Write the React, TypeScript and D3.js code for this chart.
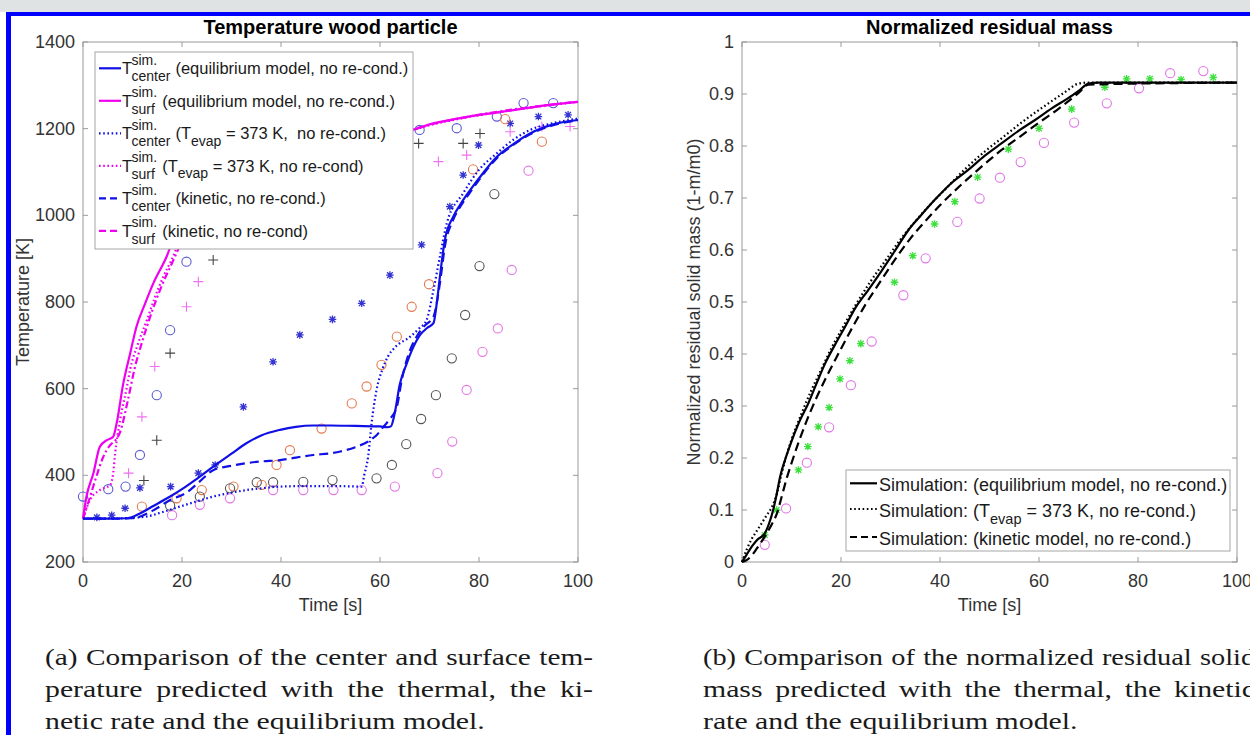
import React, { useEffect, useRef } from 'react';
import * as d3 from 'd3';

const SANS = "'Liberation Sans', Arial, Helvetica, sans-serif";
const SERIF = "'Liberation Serif', 'Times New Roman', serif";

// ---------------- Panel (a): Temperature wood particle ----------------
const tempTitle = 'Temperature wood particle';
const tempXLabel = 'Time [s]';
const tempYLabel = 'Temperature [K]';
const tempXTicks = [0, 20, 40, 60, 80, 100];
const tempYTicks = [200, 400, 600, 800, 1000, 1200, 1400];

const centerEqT = [0, 5, 9, 11.5, 14, 17.6, 20, 23, 26.3, 30, 33, 36, 39.8, 43, 46.5, 50, 55, 60, 61.5, 62.2, 63, 64, 65.4, 66.5, 68.1, 69.5, 70.8, 71.5, 72.1, 73.1, 74.8, 76.5, 78.2, 81, 83.6, 87, 90.3, 95, 100];
const centerEqV = [300, 300, 301, 312, 328, 351, 368, 392, 420, 450, 474, 492, 505, 512, 515, 515, 514, 513, 511, 513, 545, 610, 658, 690, 724, 740, 751, 800, 858, 943, 997, 1030, 1058, 1100, 1135, 1165, 1189, 1210, 1220];

const centerEvT = [0, 5, 10, 12.9, 16, 19.6, 23, 26.3, 30, 33, 36, 39.8, 44, 48, 52, 56.3, 56.8, 57.6, 58.3, 59.3, 60.5, 61.6, 63, 66.1, 68, 69.4, 70.8, 72.1, 73.5, 76.8, 80, 83.6, 87, 90.3, 95, 100];
const centerEvV = [300, 300, 302, 305, 315, 328, 340, 351, 360, 366, 370, 374, 375, 375, 375, 374, 400, 443, 520, 597, 645, 674, 695, 720, 740, 758, 828, 905, 982, 1051, 1105, 1143, 1175, 1197, 1213, 1223];

const centerKinT = [0, 5, 10, 14, 17.6, 20.9, 23.5, 26.3, 30, 33, 36, 39.8, 43, 46.5, 50, 52, 55, 58, 59.5, 60.7, 62, 63.4, 64.4, 65.5, 67.4, 69, 70.8, 72.1, 73.1, 74.8, 76.5, 78.2, 81, 83.6, 87, 90.3, 95, 100];
const centerKinV = [300, 300, 301, 318, 343, 360, 385, 412, 422, 428, 432, 435, 441, 447, 451, 455, 465, 481, 495, 512, 530, 558, 620, 670, 720, 745, 766, 843, 928, 990, 1025, 1053, 1097, 1132, 1163, 1187, 1208, 1219];

const surfEqT = [0, 0.7, 2.1, 3.4, 4.8, 6.1, 6.8, 8.1, 9.5, 10.8, 12.5, 14.2, 16.9, 19.6, 22, 25, 30, 35, 40, 45, 50, 55, 60, 66.4, 70, 75, 80, 83.6, 90, 95, 100];
const surfEqV = [300, 351, 405, 466, 481, 489, 520, 610, 680, 743, 795, 843, 905, 989, 1030, 1070, 1110, 1135, 1155, 1168, 1178, 1186, 1192, 1197, 1210, 1222, 1232, 1237, 1248, 1256, 1262];

const surfKinT = [0, 1, 2.5, 4, 5.5, 6.5, 7.5, 9, 10.5, 12, 14, 16, 18, 20, 25, 30, 40, 50, 60, 66, 70, 80, 90, 100];
const surfKinV = [300, 335, 390, 440, 470, 480, 500, 570, 650, 710, 780, 840, 890, 940, 1020, 1075, 1140, 1175, 1192, 1197, 1209, 1232, 1249, 1262];

const surfEvT = [0, 1.4, 3.4, 5.5, 6.1, 6.5, 7.5, 8.8, 9.5, 11, 12.9, 14.5, 16.2, 18, 19.6, 22, 30, 40, 50, 60, 66, 70, 80, 90, 100];
const surfEvV = [300, 343, 366, 378, 405, 451, 528, 600, 643, 700, 758, 810, 858, 900, 943, 990, 1080, 1140, 1175, 1190, 1196, 1208, 1231, 1248, 1262];

// measured points (left)
const blueStarT = [2.8, 5.8, 8.5, 11.5, 17.7, 23.3, 26.7, 32.4, 38.4, 43.8, 50.4, 56.3, 62, 68.4, 74.1, 76.8, 79.9, 86.3, 92, 98];
const blueStarV = [303, 308, 324, 371, 374, 405, 424, 558, 662, 724, 760, 797, 862, 932, 1020, 1093, 1162, 1212, 1228, 1232];
const blueCircT = [0, 5.1, 8.6, 11.5, 14.9, 17.6, 20.9, 68, 75.5, 83.6, 89, 95];
const blueCircV = [351, 368, 374, 447, 585, 735, 893, 1197, 1201, 1228, 1259, 1259];
const orangeCircT = [11.9, 18.9, 24, 30.4, 36.1, 39.1, 41.8, 48.2, 54.3, 57.3, 60.3, 63.4, 66.4, 69.9, 78.8, 85.3, 92.7];
const orangeCircV = [328, 347, 366, 374, 378, 424, 458, 508, 566, 605, 655, 720, 789, 841, 1106, 1222, 1170];
const grayCircT = [17.6, 23.6, 29.7, 35.1, 38.4, 44.5, 50.4, 59.3, 62.4, 65.3, 68.3, 71.3, 74.5, 77.2, 80.1, 83.1];
const grayCircV = [330, 351, 370, 384, 384, 385, 389, 393, 424, 472, 530, 585, 670, 770, 883, 1049];
const pinkCircT = [18, 23.6, 29.7, 38.4, 44.5, 50.6, 56.3, 63, 71.6, 74.6, 77.5, 80.7, 83.8, 86.6, 90];
const pinkCircV = [308, 332, 347, 366, 366, 366, 366, 374, 405, 478, 597, 685, 739, 874, 1103];
const grayPlusT = [12.3, 14.9, 17.6, 26.3, 67.8, 76.8, 80.2];
const grayPlusV = [388, 481, 682, 897, 1166, 1166, 1189];
const pinkPlusT = [9.2, 11.9, 14.5, 20.9, 23.3, 71.8, 77.5, 86.3, 92.7, 98.4];
const pinkPlusV = [405, 535, 651, 789, 847, 1124, 1139, 1193, 1205, 1205];

// ---------------- Panel (b): Normalized residual mass ----------------
const massTitle = 'Normalized residual mass';
const massXLabel = 'Time [s]';
const massYLabel = 'Normalized residual solid mass (1-m/m0)';
const massXTicks = [0, 20, 40, 60, 80, 100];
const massYTicks = [0, 0.1, 0.2, 0.3, 0.4, 0.5, 0.6, 0.7, 0.8, 0.9, 1];

const massEqT = [0, 1, 2, 3, 4.6, 5.5, 6.3, 7, 7.7, 9, 10, 11.5, 13.4, 15, 16.8, 18.8, 20.8, 23, 25.5, 28.2, 31, 33.6, 36, 38.9, 42, 45.7, 49, 52.4, 56, 59.2, 62.5, 65.9, 68, 70, 72, 80, 90, 100];
const massEqV = [0, 0.015, 0.03, 0.042, 0.055, 0.075, 0.1, 0.13, 0.164, 0.205, 0.232, 0.268, 0.305, 0.342, 0.382, 0.418, 0.452, 0.49, 0.523, 0.56, 0.6, 0.638, 0.665, 0.696, 0.726, 0.754, 0.781, 0.805, 0.83, 0.85, 0.872, 0.892, 0.906, 0.92, 0.922, 0.922, 0.922, 0.922];
const massEvT = [0, 1, 2, 3, 4, 5, 6, 7, 8, 9, 10, 12, 14, 16, 18, 20, 23, 26, 29, 32, 35, 38, 41, 45, 49, 53, 57, 61, 65, 68, 70, 100];
const massEvV = [0, 0.025, 0.045, 0.06, 0.075, 0.09, 0.105, 0.13, 0.17, 0.205, 0.235, 0.285, 0.33, 0.37, 0.41, 0.445, 0.495, 0.54, 0.58, 0.62, 0.655, 0.687, 0.716, 0.755, 0.789, 0.819, 0.849, 0.876, 0.902, 0.92, 0.922, 0.922];
const massKinT = [0, 1, 2, 3, 4, 5, 6, 7, 8, 9, 10, 11.5, 13, 15, 17, 19, 21, 23, 25, 28, 31, 34, 37, 40, 44, 48, 52, 56, 60, 64, 68, 70, 100];
const massKinV = [0, 0.004, 0.013, 0.026, 0.04, 0.055, 0.072, 0.092, 0.125, 0.16, 0.19, 0.232, 0.27, 0.315, 0.355, 0.392, 0.428, 0.463, 0.496, 0.54, 0.583, 0.622, 0.655, 0.686, 0.723, 0.757, 0.789, 0.817, 0.845, 0.872, 0.902, 0.918, 0.922];

const greenStarT = [4.6, 7, 11.4, 13.3, 15.4, 17.6, 19.8, 21.8, 24, 30.8, 34.5, 38.9, 43, 47.6, 53.8, 60, 66.6, 73.3, 77.7, 82.4, 88.7, 95.2];
const greenStarV = [0.052, 0.1, 0.177, 0.222, 0.26, 0.297, 0.352, 0.387, 0.42, 0.538, 0.589, 0.65, 0.693, 0.74, 0.794, 0.834, 0.871, 0.913, 0.929, 0.929, 0.928, 0.932];
const pinkMassT = [4.6, 8.9, 13.1, 17.6, 22, 26.2, 32.6, 37.1, 43.5, 48, 52.1, 56.3, 61, 67.1, 73.7, 80.2, 86.5, 93.2];
const pinkMassV = [0.033, 0.103, 0.191, 0.259, 0.34, 0.424, 0.513, 0.584, 0.654, 0.699, 0.739, 0.769, 0.806, 0.845, 0.882, 0.911, 0.94, 0.944];

// captions
const captionA = ['(a) Comparison of the center and surface tem-', 'perature predicted with the thermal, the ki-', 'netic rate and the equilibrium model.'];
const captionB = ['(b) Comparison of the normalized residual solid', 'mass predicted with the thermal, the kinetic', 'rate and the equilibrium model.'];

const BLUE = '#1010e6';
const MAGENTA = '#f000f0';
const DOT = '1.6,2.6';
const DASH = '9,5';

type Sel = d3.Selection<SVGGElement, unknown, null, undefined>;

function drawFrame(g: Sel, x: d3.ScaleLinear<number, number>, y: d3.ScaleLinear<number, number>, xt: number[], yt: number[], yfmt: (v: number) => string, title: string, xl: string, yl: string, ylX: number) {
  const [x0, x1] = x.range();
  const [y0, y1] = y.range();
  const axisCol = '#9a9a9a';
  const lab = '#333';
  g.append('rect').attr('x', x0).attr('y', y1).attr('width', x1 - x0).attr('height', y0 - y1).attr('fill', 'none').attr('stroke', axisCol).attr('stroke-width', 1);
  const tl = 5;
  xt.forEach(v => {
    const px = x(v);
    g.append('line').attr('x1', px).attr('x2', px).attr('y1', y0).attr('y2', y0 - tl).attr('stroke', axisCol);
    g.append('line').attr('x1', px).attr('x2', px).attr('y1', y1).attr('y2', y1 + tl).attr('stroke', axisCol);
    g.append('text').attr('x', px).attr('y', y0 + 25).attr('text-anchor', 'middle').attr('font-family', SANS).attr('font-size', 18).attr('fill', lab).text(String(v));
  });
  yt.forEach(v => {
    const py = y(v);
    g.append('line').attr('x1', x0).attr('x2', x0 + tl).attr('y1', py).attr('y2', py).attr('stroke', axisCol);
    g.append('line').attr('x1', x1).attr('x2', x1 - tl).attr('y1', py).attr('y2', py).attr('stroke', axisCol);
    g.append('text').attr('x', x0 - 8).attr('y', py + 6).attr('text-anchor', 'end').attr('font-family', SANS).attr('font-size', 18).attr('fill', lab).text(yfmt(v));
  });
  g.append('text').attr('x', (x0 + x1) / 2).attr('y', 34).attr('text-anchor', 'middle').attr('font-family', SANS).attr('font-size', 20).attr('font-weight', 'bold').attr('fill', '#000').text(title);
  g.append('text').attr('x', (x0 + x1) / 2).attr('y', 611).attr('text-anchor', 'middle').attr('font-family', SANS).attr('font-size', 18).attr('fill', lab).text(xl);
  g.append('text').attr('transform', `translate(${ylX},${(y0 + y1) / 2}) rotate(-90)`).attr('text-anchor', 'middle').attr('font-family', SANS).attr('font-size', 18).attr('fill', lab).text(yl);
}

function drawLine(g: Sel, x: any, y: any, ts: number[], vs: number[], color: string, dash: string | null, w = 2.2) {
  const line = d3.line<number>().x((_, i) => x(ts[i])).y(v => y(v)).curve(d3.curveMonotoneX);
  const p = g.append('path').attr('d', line(vs) as string).attr('fill', 'none').attr('stroke', color).attr('stroke-width', w).attr('stroke-linejoin', 'round');
  if (dash) p.attr('stroke-dasharray', dash);
}

function drawMarkers(g: Sel, x: any, y: any, ts: number[], vs: number[], kind: 'o' | '+' | '*', color: string) {
  ts.forEach((t, i) => {
    const cx = x(t), cy = y(vs[i]);
    if (kind === 'o') {
      g.append('circle').attr('cx', cx).attr('cy', cy).attr('r', 4.6).attr('fill', 'none').attr('stroke', color).attr('stroke-width', 1.1);
    } else if (kind === '+') {
      const s = 5;
      g.append('path').attr('d', `M${cx - s},${cy}H${cx + s}M${cx},${cy - s}V${cy + s}`).attr('stroke', color).attr('stroke-width', 1.1).attr('fill', 'none');
    } else {
      const s = 3.8, d = s * 0.75;
      g.append('path').attr('d', `M${cx - s},${cy}H${cx + s}M${cx},${cy - s}V${cy + s}M${cx - d},${cy - d}L${cx + d},${cy + d}M${cx - d},${cy + d}L${cx + d},${cy - d}`).attr('stroke', color).attr('stroke-width', 1.3).attr('fill', 'none');
    }
  });
}

// justified caption, glyphs stretched horizontally by sx (Computer Modern is wide)
function caption(svg: any, x: number, lines: string[], width: number, baselines: number[], fs: number, sx: number) {
  lines.forEach((ln, i) => {
    const t = svg.append('text').attr('transform', `translate(${x},${baselines[i]}) scale(${sx},1)`).attr('font-family', SERIF).attr('font-size', fs).attr('fill', '#1a1a1a').style('white-space', 'pre').text(ln);
    if (i < lines.length - 1) {
      const nat = (t.node() as SVGTextElement).getComputedTextLength();
      const spaces = (ln.match(/ /g) || []).length;
      let ws = (width / sx - nat) / spaces;
      if (ws < 1) {
        ws = 1;
        const sxl = width / (nat + spaces * ws);
        t.attr('transform', `translate(${x},${baselines[i]}) scale(${sxl},1)`);
      }
      t.attr('word-spacing', ws);
    }
  });
}

export default function App() {
  const ref = useRef<SVGSVGElement>(null);
  useEffect(() => {
    const svg = d3.select(ref.current as SVGSVGElement);
    svg.selectAll('*').remove();
    const W = 1250, H = 735;
    svg.append('rect').attr('width', W).attr('height', H).attr('fill', '#fff');
    svg.append('rect').attr('width', W).attr('height', 12).attr('fill', '#dfe3e3');
    svg.append('rect').attr('x', 6).attr('y', 12).attr('width', W - 6).attr('height', 4).attr('fill', '#0000ff');
    svg.append('rect').attr('x', 6).attr('y', 12).attr('width', 5).attr('height', H - 12).attr('fill', '#0000ff');

    // ----- left panel -----
    const gA = svg.append('g') as unknown as Sel;
    const xA = d3.scaleLinear().domain([0, 100]).range([83, 578]);
    const yA = d3.scaleLinear().domain([200, 1400]).range([562, 42]);
    drawFrame(gA, xA, yA, tempXTicks, tempYTicks, v => String(v), tempTitle, tempXLabel, tempYLabel, 29);

    drawMarkers(gA, xA, yA, blueStarT, blueStarV, '*', '#3434d2');
    drawMarkers(gA, xA, yA, blueCircT, blueCircV, 'o', '#5a5ad2');
    drawMarkers(gA, xA, yA, orangeCircT, orangeCircV, 'o', '#e5784e');
    drawMarkers(gA, xA, yA, grayCircT, grayCircV, 'o', '#555555');
    drawMarkers(gA, xA, yA, pinkCircT, pinkCircV, 'o', '#e476e4');
    drawMarkers(gA, xA, yA, grayPlusT, grayPlusV, '+', '#444444');
    drawMarkers(gA, xA, yA, pinkPlusT, pinkPlusV, '+', '#f070f0');

    drawLine(gA, xA, yA, surfEvT, surfEvV, MAGENTA, DOT);
    drawLine(gA, xA, yA, surfKinT, surfKinV, MAGENTA, '7,3,2,3');
    drawLine(gA, xA, yA, surfEqT, surfEqV, MAGENTA, null);
    drawLine(gA, xA, yA, centerEvT, centerEvV, BLUE, DOT);
    drawLine(gA, xA, yA, centerKinT, centerKinV, BLUE, DASH);
    drawLine(gA, xA, yA, centerEqT, centerEqV, BLUE, null);

    // left legend
    const lg = gA.append('g');
    lg.append('rect').attr('x', 95).attr('y', 52).attr('width', 318).attr('height', 197).attr('fill', '#fff').attr('stroke', '#a6a6a6').attr('stroke-width', 1);
    const rowsA = [
      { sub: 'center', rest: ['(equilibrium model, no re-cond.)'], color: BLUE, dash: null },
      { sub: 'surf', rest: ['(equilibrium model, no re-cond.)'], color: MAGENTA, dash: null },
      { sub: 'center', rest: ['(T', 'evap', ' = 373 K,  no re-cond.)'], color: BLUE, dash: DOT },
      { sub: 'surf', rest: ['(T', 'evap', ' = 373 K, no re-cond)'], color: MAGENTA, dash: DOT },
      { sub: 'center', rest: ['(kinetic, no re-cond.)'], color: BLUE, dash: DASH },
      { sub: 'surf', rest: ['(kinetic, no re-cond)'], color: MAGENTA, dash: DASH },
    ];
    rowsA.forEach((r, i) => {
      const ly = 68.3 + i * 32.5;
      const l = lg.append('line').attr('x1', 99).attr('x2', 121).attr('y1', ly).attr('y2', ly).attr('stroke', r.color).attr('stroke-width', 2.2);
      if (r.dash) l.attr('stroke-dasharray', r.dash === DASH ? '7,4' : r.dash);
      const base = ly + 5.8;
      lg.append('text').attr('x', 122).attr('y', base).attr('font-family', SANS).attr('font-size', 16.5).attr('fill', '#1a1a1a').text('T');
      const sup = lg.append('text').attr('x', 131.5).attr('y', ly - 3.5).attr('font-family', SANS).attr('font-size', 14).attr('fill', '#1a1a1a').text('sim.');
      const sub = lg.append('text').attr('x', 131.5).attr('y', ly + 13).attr('font-family', SANS).attr('font-size', 14).attr('fill', '#1a1a1a').text(r.sub);
      const wmax = Math.max((sup.node() as SVGTextElement).getComputedTextLength(), (sub.node() as SVGTextElement).getComputedTextLength());
      const t = lg.append('text').attr('x', 131.5 + wmax + 5).attr('y', base).attr('font-family', SANS).attr('font-size', 16.5).attr('fill', '#1a1a1a').style('white-space', 'pre');
      if (r.rest.length === 1) {
        t.text(r.rest[0]);
      } else {
        t.append('tspan').text(r.rest[0]);
        t.append('tspan').attr('dy', 6.5).attr('font-size', 14).text(r.rest[1]);
        t.append('tspan').attr('dy', -6.5).text(r.rest[2]);
      }
    });

    // ----- right panel -----
    const gB = svg.append('g') as unknown as Sel;
    const xB = d3.scaleLinear().domain([0, 100]).range([742, 1237]);
    const yB = d3.scaleLinear().domain([0, 1]).range([562, 42]);
    drawFrame(gB, xB, yB, massXTicks, massYTicks, v => d3.format('~g')(v), massTitle, massXLabel, massYLabel, 700);
    drawMarkers(gB, xB, yB, greenStarT, greenStarV, '*', '#3ee03e');
    drawMarkers(gB, xB, yB, pinkMassT, pinkMassV, 'o', '#e076e6');
    drawLine(gB, xB, yB, massKinT, massKinV, '#000', DASH);
    drawLine(gB, xB, yB, massEvT, massEvV, '#000', DOT);
    drawLine(gB, xB, yB, massEqT, massEqV, '#000', null);

    const rg = gB.append('g');
    rg.append('rect').attr('x', 846).attr('y', 470).attr('width', 384).attr('height', 81).attr('fill', '#fff').attr('stroke', '#a6a6a6').attr('stroke-width', 1);
    const rowsB = [
      { ly: 483.3, parts: ['Simulation: (equilibrium model, no re-cond.)'], dash: null },
      { ly: 509, parts: ['Simulation: (T', 'evap', ' = 373 K, no re-cond.)'], dash: DOT },
      { ly: 537, parts: ['Simulation: (kinetic model, no re-cond.)'], dash: '7,4' },
    ];
    rowsB.forEach(r => {
      const l = rg.append('line').attr('x1', 850).attr('x2', 877).attr('y1', r.ly).attr('y2', r.ly).attr('stroke', '#000').attr('stroke-width', 2.2);
      if (r.dash) l.attr('stroke-dasharray', r.dash);
      const t = rg.append('text').attr('x', 879).attr('y', r.ly + 7.5).attr('font-family', SANS).attr('font-size', 18).attr('fill', '#1a1a1a').style('white-space', 'pre');
      if (r.parts.length === 1) t.text(r.parts[0]);
      else {
        t.append('tspan').text(r.parts[0]);
        t.append('tspan').attr('dy', 7).attr('font-size', 14.5).text(r.parts[1]);
        t.append('tspan').attr('dy', -7).text(r.parts[2]);
      }
    });

    // ----- captions -----
    const fs = 24;
    const probe = svg.append('text').attr('font-family', SERIF).attr('font-size', fs).style('white-space', 'pre').text(captionA[2]);
    const nat3 = (probe.node() as SVGTextElement).getComputedTextLength();
    probe.remove();
    const sx = 440 / nat3;
    caption(svg, 45, captionA, 548, [665, 697, 729], fs, sx);
    caption(svg, 703, captionB, 552, [665, 697, 729], fs, sx);
  }, []);
  return (
    <div style={{ position: 'absolute', left: 0, top: 0 }}>
      <svg ref={ref} width={1250} height={735} style={{ display: 'block' }} />
    </div>
  );
}
